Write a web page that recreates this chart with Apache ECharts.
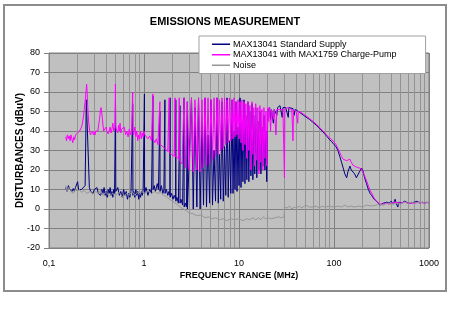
<!DOCTYPE html>
<html><head><meta charset="utf-8">
<script src="https://cdn.jsdelivr.net/npm/echarts@6/dist/echarts.min.js"></script>
<style>html,body{margin:0;padding:0;background:#fff}#c{width:450px;height:327px}</style>
</head><body><div id="c"></div>
<script>
const titleText = 'EMISSIONS MEASUREMENT';
const seriesNames = ['MAX13041 Standard Supply', 'MAX13041 with MAX1759 Charge-Pump', 'Noise'];
const xTickLabels = {0.1: '0,1', 1: '1', 10: '10', 100: '100', 1000: '1000'};
const minorGrid = [0.2,0.3,0.4,0.5,0.6,0.7,0.8,0.9,2,3,4,5,6,7,8,9,20,30,40,50,60,70,80,90,200,300,400,500,600,700,800,900];

const standardSupply = [
[0.15,11],[0.155,9],[0.16,12],[0.165,10],[0.17,11],[0.175,9],[0.18,10.5],[0.185,9],[0.19,11],[0.195,10],[0.2,14],[0.205,10],[0.21,11],[0.22,10],[0.23,11],[0.24,12],[0.247,56],[0.255,55],[0.266,11],[0.275,9],[0.28,10],[0.29,8],[0.3,10],[0.31,9],[0.32,11],[0.33,8],[0.34,9],[0.35,7],[0.36,10],[0.37,8],[0.38,11],[0.39,7],[0.4,9],[0.41,6],[0.42,10],[0.43,8],[0.44,11],[0.45,7],[0.46,9],[0.47,6],[0.48,10],[0.49,8],[0.497,9],[0.501,56],[0.505,9],[0.51,8],[0.53,11],[0.55,7],[0.57,9],[0.59,6],[0.61,10],[0.63,7],[0.65,9],[0.67,5],[0.69,8],[0.71,6],[0.73,9],[0.755,8],[0.76,54],[0.765,7],[0.78,9],[0.8,6],[0.82,10],[0.84,7],[0.86,9],[0.88,5],[0.9,8],[0.92,6],[0.94,9],[0.96,7],[0.98,10],[1.005,9],[1.01,59],[1.015,8],[1.05,11],[1.1,7],[1.15,10],[1.2,8],[1.235,9],[1.24,58],[1.245,10],[1.28,12],[1.32,9],[1.38,13],[1.42,10],[1.465,11],[1.47,50],[1.475,9],[1.52,12],[1.58,8],[1.62,10],[1.655,9],[1.66,56],[1.665,8],[1.72,10],[1.78,7],[1.83,9],[1.875,7],[1.88,57],[1.885,6],[1.95,8],[2.02,5],[2.08,7],[2.155,5],[2.16,56],[2.165,4],[2.22,6],[2.3,3],[2.385,4],[2.39,53],[2.395,3],[2.45,5],[2.55,2],[2.635,2],[2.64,57],[2.645,1],[2.72,3],[2.8,1],[2.855,1],[2.86,55],[2.865,0],
[3.0,1],[3.16,57],[3.3,0],[3.44,52],[3.6,1],[3.75,57],[3.9,0],[4.08,45],[4.23,2],[4.39,57],[4.55,1],[4.72,38],[4.9,3],[5.07,56],[5.26,2],[5.46,30],[5.66,4],[5.87,57],[6.05,3],[6.23,28],[6.42,5],[6.62,55],[6.83,4],[7.04,32],[7.26,7],[7.48,57],[7.7,6],[7.94,35],[8.2,8],[8.44,56],[8.65,8],[8.86,40],[9.08,10],[9.3,55],[9.53,9],[9.76,42],[10.0,12],[10.25,57],[10.5,11],[10.75,45],[11.0,14],[11.3,56],[11.55,13],[11.8,48],[12.1,15],[12.4,55],[12.7,14],[13.0,50],[13.35,17],[13.7,54],[14.0,15],[14.3,48],[14.65,18],[15.0,52],[15.4,16],[15.8,45],[16.2,20],[16.6,50],[17.0,18],[17.4,42],[17.85,22],[18.3,48],[18.75,20],[19.2,40],[19.6,14],[20.1,50],
[20.5,50],[21,52],[21.5,46],[22,51],[22.5,52],[23,44],[23.5,51],[24,52],[25,48],[25.5,52],[26,51],[27,53],[28,52],[28.5,47],[29,52],[30,52.5],[31,52],[32,52.5],[33,47],[33.5,52],[35,52],[37,51.5],[38,48],[39,51],[41,50.5],[43,49.5],[45,49],[48,48],[50,47.5],[55,46],[60,44.5],[65,43],[70,41.5],[75,40],[80,38.5],[85,37],[90,35.5],[95,34.5],[100,33],[105,32],[110,30],[115,27],[120,24],[125,21],[130,18],[136,16],[140,19],[147,22],[152,20],[158,19.5],[165,18],[172,16],[178,16.5],[185,19],[195,21],[202,19.5],[210,16],[220,13],[230,10],[240,8],[250,6.8],[265,5],[280,4],[293,3.4],[305,2],[317,1.7],[330,3],[345,2.5],[360,3.5],[380,3],[400,4],[420,2.5],[440,5],[450,3],[470,1],[480,3.5],[500,4.5],[520,3],[550,4],[580,3.5],[600,4.5],[620,3],[650,4],[700,3.5],[750,4],[800,3],[850,3.5],[900,3],[950,3.5],[1000,3]
];

const chargePump = [
[0.15,37],[0.153,35],[0.156,38],[0.16,36],[0.163,37.5],[0.167,35],[0.17,38],[0.174,36],[0.178,34],[0.182,37],[0.186,35.5],[0.19,38],[0.195,37],[0.2,39],[0.205,38],[0.21,40],[0.215,39],[0.22,42],[0.225,44],[0.23,47],[0.235,51],[0.24,55],[0.245,56],[0.249,64],[0.252,60],[0.256,52],[0.262,44],[0.268,40],[0.273,38],[0.278,39],[0.283,37],[0.288,40],[0.293,38],[0.3,39.5],[0.305,38],[0.31,40],[0.315,39],[0.32,41],[0.327,40],[0.333,43],[0.34,46],[0.347,50],[0.353,52],[0.358,51],[0.364,47],[0.37,43],[0.376,40],[0.383,41],[0.39,39],[0.398,42],[0.406,40],[0.414,41],[0.42,38.5],[0.43,40],[0.44,42],[0.45,39],[0.46,41],[0.47,44],[0.48,40],[0.49,41],[0.496,42],[0.5,64],[0.504,43],[0.51,41],[0.52,42],[0.53,39],[0.54,43],[0.55,40],[0.56,44],[0.57,39],[0.58,41],[0.6,40],[0.62,42],[0.64,38],[0.66,40],[0.68,37],[0.7,41],[0.72,38],[0.74,40],[0.755,41],[0.76,60],[0.765,40],[0.78,38],[0.8,42],[0.82,37],[0.84,40],[0.86,35],[0.88,38],[0.9,36],[0.92,40],[0.94,36],[0.96,39],[0.98,37],[1.0,40],[1.02,38],[1.06,39],[1.1,36],[1.15,37.5],[1.2,35],[1.235,36],[1.24,59],[1.245,36],[1.3,34],[1.35,36],[1.4,33],[1.465,34],[1.47,55],[1.475,33],[1.52,34],[1.58,32],[1.63,33],[1.66,31],[1.72,31],[1.78,29.5],[1.835,30],[1.84,57],[1.845,29],[1.9,30],[1.95,28],[2.02,29],[2.08,27],[2.115,28],[2.12,57],[2.125,27],[2.2,27],[2.3,26],[2.345,26],[2.35,57],[2.355,25],[2.45,24],[2.52,23],[2.6,22],
[2.64,57],[2.75,21],[2.86,55],[3.0,20],[3.16,57],[3.3,19],[3.44,56],[3.6,20],[3.75,57],[3.9,19],[4.08,56],[4.23,21],[4.39,57],[4.55,22],[4.72,57],[4.9,23],[5.07,56],[5.26,25],[5.46,57],[5.66,27],[5.87,57],[6.05,28],[6.23,56],[6.42,30],[6.62,57],[6.83,31],[7.04,57],[7.26,33],[7.48,56],[7.7,34],[7.94,57],[8.2,35],[8.44,56],[8.65,36],[8.86,57],[9.08,37],[9.3,55],[9.53,38],[9.76,56],[10.0,36],[10.25,55],[10.5,34],[10.75,56],[11.0,30],[11.3,55],[11.55,33],[11.8,54],[12.1,26],[12.4,55],[12.7,30],[13.0,53],[13.35,20],[13.7,55],[14.0,28],[14.3,52],[14.65,22],[15.0,54],[15.4,25],[15.8,52],[16.2,18],[16.6,53],[17.0,24],[17.4,51],[17.85,20],[18.3,52],[18.75,26],[19.2,50],[19.6,22],[20.1,52],
[20.5,45],[21,52],[21.5,40],[22,51],[22.5,52],[23,46],[23.5,51],[24,52],[24.5,38],[25,51],[26,52],[27,51],[28,52],[29,51],[29.8,50],[30.1,16],[30.4,51],[32,52],[34,51.5],[36,51],[37,35],[37.5,51],[40,50],[41.5,44],[42,50],[45,49.5],[50,48],[55,46.5],[60,45],[65,43.5],[70,42],[75,40.5],[80,39],[85,37.5],[90,36.5],[95,35.5],[100,34.5],[105,33],[110,31],[115,29],[120,27],[125,25.5],[130,24.5],[136,24.8],[142,25.5],[147,25.5],[152,24],[158,22.5],[165,22],[172,21.5],[178,21.5],[185,21],[195,20.5],[202,20.5],[210,17],[220,14.5],[230,12],[240,9.5],[250,8],[265,5.5],[280,4],[293,3],[305,2.5],[317,2],[330,2.5],[350,3],[380,2.5],[400,3],[450,3.5],[500,3],[550,3.5],[600,3],[700,3],[800,3.5],[900,3],[1000,3.5]
];

const noise = [
[0.15,12],[0.155,9],[0.16,11],[0.17,9],[0.175,10],[0.18,8],[0.19,10],[0.2,9],[0.21,10],[0.22,8.5],[0.235,9.5],[0.25,8],[0.27,9],[0.29,7.5],[0.31,9],[0.33,8],[0.35,9.5],[0.37,7],[0.4,8.5],[0.43,6.5],[0.46,8],[0.5,7],[0.55,8.5],[0.6,6],[0.65,8],[0.7,7],[0.75,9],[0.8,7],[0.85,8.5],[0.9,7.5],[0.95,9],[1.0,8],[1.1,9.5],[1.2,8],[1.3,9],[1.4,8],[1.5,8.5],[1.6,7],[1.7,6.5],[1.85,5],[2.0,4],[2.2,2.5],[2.4,1],[2.6,0],[2.8,-1],[3.0,-2],[3.3,-2.5],[3.6,-3.5],[4.0,-3],[4.4,-4.5],[4.8,-4],[5.2,-5],[5.7,-4.5],[6.2,-5.5],[6.8,-5],[7.5,-6],[8.2,-5],[9,-5.5],[10,-5],[11,-6],[12,-5],[13,-5.5],[14,-4.5],[15,-5.5],[16,-4.5],[17,-5.5],[18,-4],[19,-5],[20,-4.5],[22,-5],[24,-4.5],[26,-4],[28,-4.5],[29.8,-4],[30.2,1],[32,0.5],[34,1.5],[36,0],[38,1],[40,0.5],[43,1.5],[46,0.5],[50,2],[55,1],[60,1],[65,1.5],[70,0.5],[75,1.5],[80,1],[90,1.5],[100,1],[110,1.5],[120,1],[130,2],[140,1],[150,1.5],[165,1],[180,1.5],[200,1],[220,2],[250,1.5],[280,2],[300,2.5],[330,2],[360,3],[400,2.5],[450,3],[500,2.5],[550,3.5],[600,3],[650,3.5],[700,3],[750,3.5],[800,3],[850,3.5],[900,3],[950,3.5],[1000,3]
];

const FONT = '"Liberation Sans", Arial, sans-serif';
const chart = echarts.init(document.getElementById('c'), null, {renderer: 'canvas'});
const lineSeries = (name, data, color) => ({
  name, type: 'line', data, showSymbol: false, symbol: 'none', z: 3,
  lineStyle: {color, width: 1}, itemStyle: {color}, animation: false, silent: true
});
chart.setOption({
  animation: false,
  backgroundColor: '#ffffff',
  textStyle: {fontFamily: FONT},
  graphic: [{type: 'rect', shape: {x: 4, y: 5, width: 442, height: 286}, style: {fill: 'none', stroke: '#8c8c8c', lineWidth: 2}, silent: true, z: -10}],
  title: {text: titleText, left: 'center', top: 11, textStyle: {fontFamily: FONT, fontSize: 11, fontWeight: 'bold', color: '#000'}},
  legend: {
    data: seriesNames, orient: 'vertical', left: 199, top: 36,
    padding: [3, 29, 3, 13], itemGap: 0, itemWidth: 18, itemHeight: 1.5, icon: 'rect',
    backgroundColor: '#ffffff', borderColor: '#a0a0a0', borderWidth: 1,
    textStyle: {fontFamily: FONT, fontSize: 9, color: '#000', lineHeight: 10.5, padding: [0, 0, 0, -2]}
  },
  grid: {left: 49, right: 21, top: 53, bottom: 79, show: true, backgroundColor: '#c0c0c0', borderColor: '#808080', borderWidth: 1},
  xAxis: {
    type: 'log', logBase: 10, min: 0.1, max: 1000,
    name: 'FREQUENCY RANGE (MHz)', nameLocation: 'middle', nameGap: 23, nameMoveOverlap: false,
    nameTextStyle: {fontFamily: FONT, fontSize: 9, fontWeight: 'bold', color: '#000'},
    axisLine: {show: true, lineStyle: {color: '#808080'}},
    axisTick: {show: false},
    axisLabel: {fontFamily: FONT, fontSize: 9, color: '#000', margin: 11,
      formatter: v => xTickLabels[v] !== undefined ? xTickLabels[v] : (v < 1 ? '0,1' : String(Math.round(v)))},
    splitLine: {show: true, lineStyle: {color: '#808080', width: 1}}
  },
  yAxis: {
    type: 'value', min: -20, max: 80, interval: 10,
    name: 'DISTURBANCES (dBuV)', nameLocation: 'middle', nameGap: 24, nameMoveOverlap: false,
    nameTextStyle: {fontFamily: FONT, fontSize: 10, fontWeight: 'bold', color: '#000'},
    axisLine: {show: true, lineStyle: {color: '#808080'}},
    axisTick: {show: true, length: 5, lineStyle: {color: '#808080'}},
    axisLabel: {fontFamily: FONT, fontSize: 9, color: '#000', margin: 9},
    splitLine: {show: true, lineStyle: {color: '#808080', width: 1}}
  },
  series: [
    {name: 'minorGrid', type: 'line', data: [], silent: true, z: 1,
     markLine: {silent: true, symbol: 'none', animation: false, z: 1, label: {show: false},
       lineStyle: {color: '#939393', type: 'solid', width: 1},
       data: minorGrid.map(v => ({xAxis: v}))}},
    lineSeries(seriesNames[0], standardSupply, '#000080'),
    lineSeries(seriesNames[1], chargePump, '#ff00ff'),
    lineSeries(seriesNames[2], noise, '#969696')
  ]
});
</script></body></html>
